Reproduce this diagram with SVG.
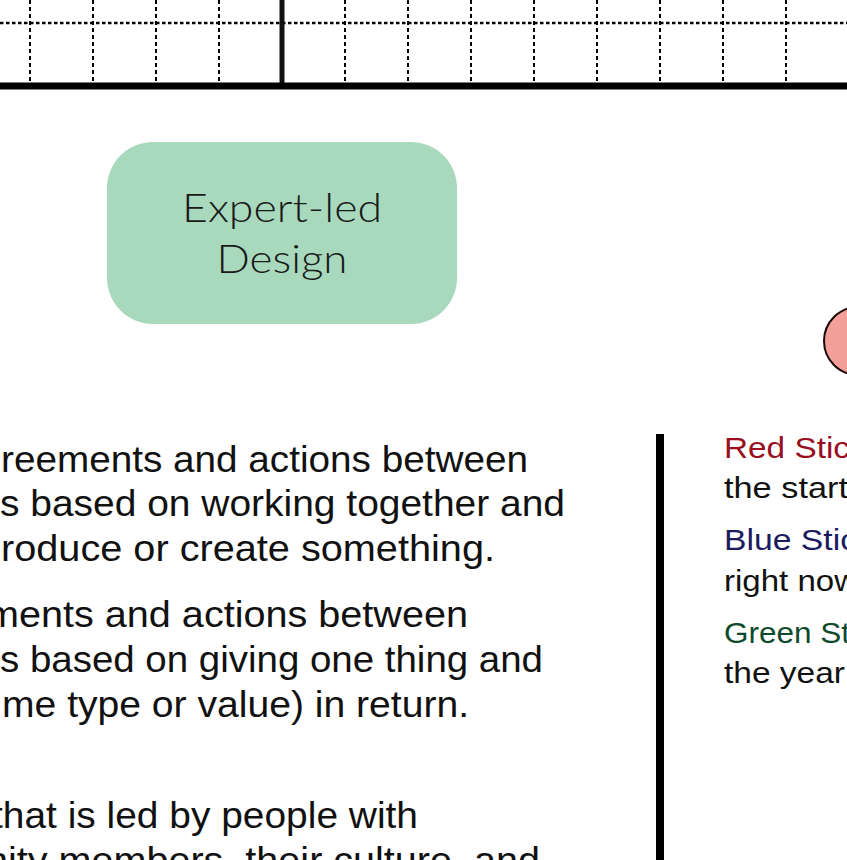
<svg xmlns="http://www.w3.org/2000/svg" width="847" height="860" viewBox="0 0 847 860">
  <style>
    .grid { stroke: #000; stroke-width: 2; stroke-dasharray: 4 3; fill: none; }
    .gridh { stroke: #000; stroke-width: 2.5; stroke-dasharray: 3.5 2.5; fill: none; }
    .body { font-family: "Liberation Sans", Arial, sans-serif; font-size: 36px; fill: #111; }
    .side { font-family: "Liberation Sans", Arial, sans-serif; font-size: 29px; fill: #111; }
    .node { font-family: "Lato", "Liberation Sans", sans-serif; font-weight: 300; font-size: 39px; fill: #1a1a1a; }
  </style>
  <rect x="0" y="0" width="847" height="860" fill="#fff"/>

  <g id="grid">
    <line class="gridh" x1="0" y1="23" x2="847" y2="23"/>
    <line class="grid" x1="30" y1="0" x2="30" y2="83"/>
    <line class="grid" x1="93" y1="0" x2="93" y2="83"/>
    <line class="grid" x1="156" y1="0" x2="156" y2="83"/>
    <line class="grid" x1="219" y1="0" x2="219" y2="83"/>
    <line class="grid" x1="345" y1="0" x2="345" y2="83"/>
    <line class="grid" x1="408" y1="0" x2="408" y2="83"/>
    <line class="grid" x1="471" y1="0" x2="471" y2="83"/>
    <line class="grid" x1="534" y1="0" x2="534" y2="83"/>
    <line class="grid" x1="597" y1="0" x2="597" y2="83"/>
    <line class="grid" x1="660" y1="0" x2="660" y2="83"/>
    <line class="grid" x1="723" y1="0" x2="723" y2="83"/>
    <line class="grid" x1="786" y1="0" x2="786" y2="83"/>
    <line x1="282" y1="0" x2="282" y2="86" stroke="#111" stroke-width="5"/>
    <line x1="0" y1="86" x2="847" y2="86" stroke="#000" stroke-width="7"/>
  </g>

  <g id="connectors"></g>

  <g id="expert-led-design">
    <rect x="107" y="142" width="350" height="182" rx="46" ry="46" fill="#a8d9bd"/>
    <text class="node" x="282" y="222" text-anchor="middle" textLength="200" lengthAdjust="spacingAndGlyphs">Expert-led</text>
    <text class="node" x="282" y="273" text-anchor="middle" textLength="131" lengthAdjust="spacingAndGlyphs">Design</text>
  </g>

  <g id="red-circle">
    <circle cx="858" cy="341" r="34" fill="#f4a09a" stroke="#1a0808" stroke-width="2"/>
  </g>

  <g id="definitions">
    <text class="body" x="1" y="472" textLength="527" lengthAdjust="spacingAndGlyphs">reements and actions between</text>
    <text class="body" x="0" y="516" textLength="565" lengthAdjust="spacingAndGlyphs">s based on working together and</text>
    <text class="body" x="1" y="561" textLength="494" lengthAdjust="spacingAndGlyphs">roduce or create something.</text>
    <text class="body" x="-14" y="627" textLength="482" lengthAdjust="spacingAndGlyphs">ments and actions between</text>
    <text class="body" x="0" y="672" textLength="543" lengthAdjust="spacingAndGlyphs">s based on giving one thing and</text>
    <text class="body" x="2" y="717" textLength="467" lengthAdjust="spacingAndGlyphs">me type or value) in return.</text>
    <text class="body" x="-8" y="828" textLength="426" lengthAdjust="spacingAndGlyphs">that is led by people with</text>
    <text class="body" x="-14" y="873" textLength="554" lengthAdjust="spacingAndGlyphs">nity members, their culture, and</text>
  </g>

  <g id="divider">
    <line x1="660" y1="434" x2="660" y2="860" stroke="#000" stroke-width="8"/>
  </g>

  <g id="legend">
    <text class="side" x="724" y="458" style="fill:#990f1f" textLength="126" lengthAdjust="spacingAndGlyphs">Red Stic</text>
    <text class="side" x="724" y="498" textLength="124" lengthAdjust="spacingAndGlyphs">the start</text>
    <text class="side" x="724" y="550" style="fill:#1b1b5e" textLength="133" lengthAdjust="spacingAndGlyphs">Blue Stic</text>
    <text class="side" x="724" y="591" textLength="134" lengthAdjust="spacingAndGlyphs">right now</text>
    <text class="side" x="724" y="643" style="fill:#0e4a2b" textLength="126" lengthAdjust="spacingAndGlyphs">Green St</text>
    <text class="side" x="724" y="683" textLength="121" lengthAdjust="spacingAndGlyphs">the year</text>
  </g>
</svg>
